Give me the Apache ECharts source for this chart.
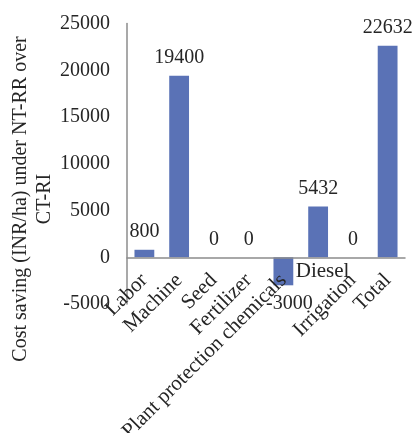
<!DOCTYPE html>
<html>
<head>
<meta charset="utf-8">
<script src="https://cdn.jsdelivr.net/npm/echarts@6/dist/echarts.min.js"></script>
<style>
  html, body { margin: 0; padding: 0; background: #ffffff; }
  #chart { width: 417px; height: 433px; }
</style>
</head>
<body>
<div id="chart"></div>
<script>
// Cost items and per-hectare saving (INR/ha)
const categories = ['Labor', 'Machine', 'Seed', 'Fertilizer', 'Plant protection chemicals', 'Diesel', 'Irrigation', 'Total'];
const savings = [800, 19400, 0, 0, -3000, 5432, 0, 22632];
const yTicks = [-5000, 0, 5000, 10000, 15000, 20000, 25000];
const yTitle = 'Cost saving (INR/ha) under NT-RR over\nCT-RI';
// Category whose axis label is written flat instead of slanted
const flatLabel = 'Diesel';

const FONT = '"Liberation Serif", "Times New Roman", serif';
const TEXT = '#262626';

const W = 417, H = 433;
const GRID = { left: 127, right: 12, top: 23.5, bottom: 129 };
const yMin = yTicks[0], yMax = yTicks[yTicks.length - 1];
// Lift the category axis from the grid bottom up to the zero line
const plotH = H - GRID.top - GRID.bottom;
const zeroLift = plotH * (0 - yMin) / (yMax - yMin);

const barData = savings.map(v => ({
  value: v,
  label: v < 0 ? { position: 'bottom', offset: [6, 0] } : { position: 'top' }
}));

const chart = echarts.init(document.getElementById('chart'), null, { renderer: 'canvas' });
chart.setOption({
  backgroundColor: '#ffffff',
  animation: false,
  grid: Object.assign({ containLabel: false, outerBoundsMode: 'none' }, GRID),
  xAxis: [
    {
      type: 'category',
      data: categories,
      position: 'bottom',
      offset: -zeroLift,
      z: 5,
      axisLine: { onZero: false, lineStyle: { color: '#8c8c8c', width: 1.5 } },
      axisTick: { show: false },
      axisLabel: {
        rotate: 45,
        interval: 0,
        margin: 20,
        fontFamily: FONT,
        fontSize: 21,
        color: TEXT,
        formatter: v => (v === flatLabel ? '' : v)
      },
      splitLine: { show: false }
    },
    {
      type: 'category',
      data: categories,
      position: 'bottom',
      offset: -zeroLift,
      z: 5,
      axisLine: { show: false, onZero: false },
      axisTick: { show: false },
      axisLabel: {
        rotate: 0,
        interval: 0,
        margin: 4,
        padding: [0, 0, 0, 9],
        fontFamily: FONT,
        fontSize: 21,
        color: TEXT,
        formatter: v => (v === flatLabel ? v : '')
      },
      splitLine: { show: false }
    }
  ],
  yAxis: {
    type: 'value',
    min: yMin,
    max: yMax,
    interval: yTicks[1] - yTicks[0],
    axisLine: { show: true, lineStyle: { color: '#8c8c8c', width: 1.5 } },
    axisTick: { show: false },
    splitLine: { show: false },
    axisLabel: {
      margin: 17,
      fontFamily: FONT,
      fontSize: 20,
      color: TEXT,
      formatter: v => String(v)
    }
  },
  graphic: [
    {
      type: 'text',
      x: 33,
      y: 199,
      rotation: Math.PI / 2,
      style: {
        text: yTitle,
        x: 0,
        y: 0,
        align: 'center',
        verticalAlign: 'middle',
        lineHeight: 24,
        font: '20px ' + FONT,
        fill: TEXT
      }
    }
  ],
  series: [
    {
      type: 'bar',
      xAxisIndex: 0,
      data: barData,
      barWidth: '57%',
      itemStyle: { color: '#5a72b6' },
      label: {
        show: true,
        distance: 8,
        fontFamily: FONT,
        fontSize: 20,
        color: TEXT
      }
    }
  ]
});
</script>
</body>
</html>
